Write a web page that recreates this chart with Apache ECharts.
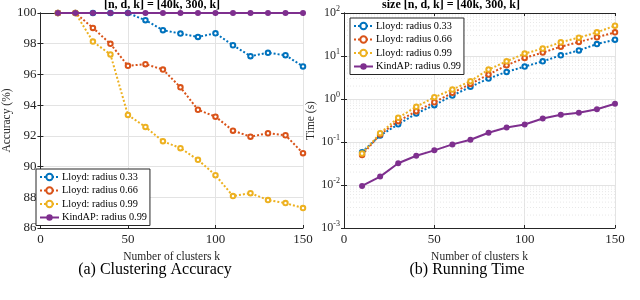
<!DOCTYPE html>
<html>
<head>
<meta charset="utf-8">
<script src="https://cdn.jsdelivr.net/npm/echarts@6/dist/echarts.min.js"></script>
<style>html,body{margin:0;padding:0;background:#fff}#c{width:640px;height:300px}</style>
</head>
<body>
<div id="c"></div>
<script>
// ---- data ----
var clusters = [10, 20, 30, 40, 50, 60, 70, 80, 90, 100, 110, 120, 130, 140, 150];
var seriesNames = ['Lloyd: radius 0.33', 'Lloyd: radius 0.66', 'Lloyd: radius 0.99', 'KindAP: radius 0.99'];
var accLloyd033 = [100, 100, 100, 100, 100, 99.53, 98.88, 98.66, 98.44, 98.68, 97.9, 97.19, 97.41, 97.25, 96.52];
var accLloyd066 = [100, 100, 99.03, 97.99, 96.56, 96.67, 96.32, 95.16, 93.7, 93.25, 92.34, 91.95, 92.17, 92.04, 90.87];
var accLloyd099 = [100, 100, 98.14, 97.3, 93.36, 92.58, 91.65, 91.2, 90.44, 89.44, 88.08, 88.27, 87.82, 87.62, 87.3];
var accKindAP = [100, 100, 100, 100, 100, 100, 100, 100, 100, 100, 100, 100, 100, 100, 100];
var timeLloyd033 = [0.058, 0.142, 0.257, 0.46, 0.72, 1.2, 1.92, 2.99, 4.27, 5.68, 7.5, 10.4, 13.5, 19, 24];
var timeLloyd066 = [0.050, 0.15, 0.305, 0.52, 0.84, 1.39, 2.24, 3.7, 6.08, 9.03, 12.0, 16.5, 21.2, 27.3, 35.5];
var timeLloyd099 = [0.054, 0.16, 0.366, 0.66, 1.1, 1.66, 2.6, 4.84, 7.5, 11.4, 14.9, 20.8, 26.7, 35.5, 50.7];
var timeKindAP = [0.0095, 0.0157, 0.032, 0.048, 0.064, 0.088, 0.113, 0.164, 0.218, 0.256, 0.353, 0.43, 0.478, 0.58, 0.775];
var accTicks = [86, 88, 90, 92, 94, 96, 98, 100];
var kTicks = [0, 50, 100, 150];
var timeDecades = [0.001, 0.01, 0.1, 1, 10, 100];
var leftTitle = '[n, d, k] = [40k, 300, k]';
var rightTitle = 'size [n, d, k] = [40k, 300, k]';
var captionA = '(a) Clustering Accuracy';
var captionB = '(b) Running Time';

// ---- chart ----
var FONT = '"Liberation Serif", "DejaVu Serif", serif';
var colors = ['#0072BD', '#D95319', '#EDB120', '#7E2F8E'];
var axisColor = '#262626';
var gridColor = '#e3e3e3';

function zip(a) { return clusters.map(function (k, i) { return [k, a[i]]; }); }

// minor log gridline values (2..9 x decade)
var minorVals = [];
for (var d = 0; d < timeDecades.length - 1; d++) {
  for (var m = 2; m <= 9; m++) minorVals.push([0, +(m * timeDecades[d]).toPrecision(3)]);
}

function lloyd(name, data, color, xi, yi) {
  return {
    name: name, type: 'line', xAxisIndex: xi, yAxisIndex: yi, data: zip(data),
    symbol: 'emptyCircle', symbolSize: 4.5,
    lineStyle: { color: color, width: 2, type: [2, 2] },
    itemStyle: { color: color, borderColor: color, borderWidth: 2 },
    emphasis: { disabled: true }, animation: false, z: 3
  };
}
function kind(name, data, color, xi, yi) {
  return {
    name: name, type: 'line', xAxisIndex: xi, yAxisIndex: yi, data: zip(data),
    symbol: 'circle', symbolSize: 6,
    lineStyle: { color: color, width: 2 },
    itemStyle: { color: color },
    emphasis: { disabled: true }, animation: false, z: 4
  };
}

var nameStyle = { fontFamily: FONT, fontSize: 11.5, color: axisColor };

function xAx(gi, pos, show) {
  return {
    type: 'value', gridIndex: gi, position: pos, min: 0, max: 150, interval: 50,
    axisLine: { show: true, onZero: false, lineStyle: { color: axisColor } },
    axisTick: { show: true, inside: true, length: 3, lineStyle: { color: axisColor } },
    axisLabel: { show: show, margin: 5, fontFamily: FONT, fontSize: 13, color: axisColor },
    splitLine: { show: show, lineStyle: { color: gridColor } },
    name: show ? 'Number of clusters k' : '', nameLocation: 'middle', nameGap: 19,
    nameTextStyle: nameStyle
  };
}
function supFmt(v) {
  var e = Math.round(Math.log10(v));
  return '{b|10}{s|' + e + '}';
}
function legendCfg(left, top) {
  return {
    data: seriesNames, orient: 'vertical', left: left, top: top,
    itemWidth: 19, itemHeight: 8, itemGap: 3.5,
    backgroundColor: '#fff', borderColor: axisColor, borderWidth: 1, borderRadius: 0,
    padding: [3, 3, 3, 3], selectedMode: false,
    textStyle: { fontFamily: FONT, fontSize: 10.3, color: '#000', padding: [0, 0, 0, -2] }
  };
}

var option = {
  animation: false,
  grid: [
    { left: 31, right: 337, top: 13, height: 215, show: false },
    { left: 344, right: 25, top: 13, height: 215, show: false }
  ],
  xAxis: [xAx(0, 'bottom', true), xAx(1, 'bottom', true), xAx(0, 'top', false), xAx(1, 'top', false)],
  yAxis: [
    {
      type: 'value', gridIndex: 0, min: 86, max: 100, interval: 2,
      axisLine: { show: true, lineStyle: { color: axisColor } },
      axisTick: { show: true, inside: true, length: 3, lineStyle: { color: axisColor } },
      axisLabel: { margin: 4, fontFamily: FONT, fontSize: 13, color: axisColor },
      splitLine: { show: true, lineStyle: { color: gridColor } },
      name: 'Accuracy (%)', nameLocation: 'middle', nameGap: 23, nameTextStyle: nameStyle
    },
    {
      type: 'log', logBase: 10, gridIndex: 1, min: 0.001, max: 100,
      axisLine: { show: true, lineStyle: { color: axisColor } },
      axisTick: { show: true, inside: true, length: 3, lineStyle: { color: axisColor } },
      axisLabel: {
        margin: 4, formatter: supFmt,
        rich: {
          b: { fontFamily: FONT, fontSize: 12, color: axisColor },
          s: { fontFamily: FONT, fontSize: 8, color: axisColor, padding: [0, 0, 8, 0] }
        }
      },
      splitLine: { show: true, lineStyle: { color: gridColor } },
      name: 'Time (s)', nameLocation: 'middle', nameGap: 21, nameTextStyle: nameStyle
    },
    {
      type: 'value', gridIndex: 0, position: 'right', min: 86, max: 100, interval: 2,
      axisLine: { show: true, lineStyle: { color: axisColor } },
      axisTick: { show: true, inside: true, length: 3, lineStyle: { color: axisColor } },
      axisLabel: { show: false }, splitLine: { show: false }
    },
    {
      type: 'log', logBase: 10, gridIndex: 1, position: 'right', min: 0.001, max: 100,
      axisLine: { show: true, lineStyle: { color: axisColor } },
      axisTick: { show: true, inside: true, length: 3, lineStyle: { color: axisColor } },
      axisLabel: { show: false }, splitLine: { show: false }
    }
  ],
  legend: [legendCfg(36, 169), legendCfg(350, 18)],
  graphic: [
    { type: 'text', x: 162, y: 5, style: { text: leftTitle, font: 'bold 12px ' + FONT, fill: '#000', align: 'center', verticalAlign: 'middle' } },
    { type: 'text', x: 451, y: 5, style: { text: rightTitle, font: 'bold 12px ' + FONT, fill: '#000', align: 'center', verticalAlign: 'middle' } },
    { type: 'text', x: 155, y: 270, style: { text: captionA, font: '16px ' + FONT, fill: '#000', align: 'center', verticalAlign: 'middle' } },
    { type: 'text', x: 467, y: 270, style: { text: captionB, font: '16px ' + FONT, fill: '#000', align: 'center', verticalAlign: 'middle' } }
  ],
  series: [
    {
      type: 'custom', name: 'minor', xAxisIndex: 1, yAxisIndex: 1, data: minorVals, silent: true, z: 0,
      renderItem: function (params, api) {
        var y = api.coord([0, api.value(1)])[1];
        var cs = params.coordSys;
        return { type: 'line', shape: { x1: cs.x, y1: y, x2: cs.x + cs.width, y2: y },
          style: { stroke: '#e8e8e8', lineWidth: 1, lineDash: [1, 2] } };
      }
    },
    lloyd(seriesNames[0], accLloyd033, colors[0], 0, 0),
    lloyd(seriesNames[1], accLloyd066, colors[1], 0, 0),
    lloyd(seriesNames[2], accLloyd099, colors[2], 0, 0),
    kind(seriesNames[3], accKindAP, colors[3], 0, 0),
    lloyd(seriesNames[0], timeLloyd033, colors[0], 1, 1),
    lloyd(seriesNames[1], timeLloyd066, colors[1], 1, 1),
    lloyd(seriesNames[2], timeLloyd099, colors[2], 1, 1),
    kind(seriesNames[3], timeKindAP, colors[3], 1, 1)
  ]
};
var chart = echarts.init(document.getElementById('c'), null, { renderer: 'canvas' });
chart.setOption(option);
</script>
</body>
</html>
